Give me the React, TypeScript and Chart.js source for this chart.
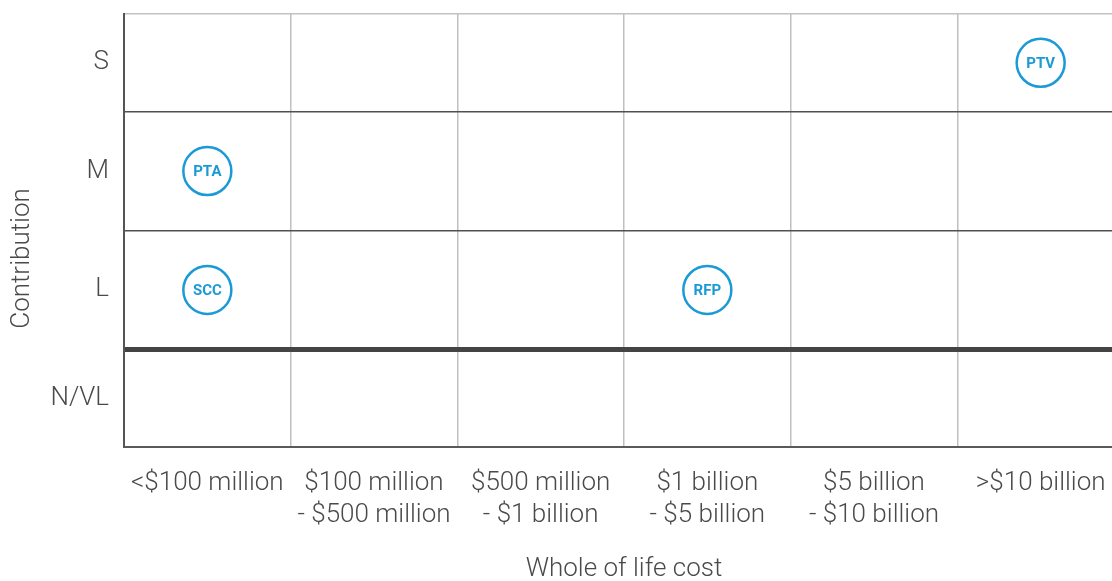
import React, { useEffect, useRef } from 'react';
import { Chart, registerables } from 'chart.js';

Chart.register(...registerables);

// ---- data ----
const costBands = [
  '<$100 million',
  '$100 million - $500 million',
  '$500 million - $1 billion',
  '$1 billion - $5 billion',
  '$5 billion - $10 billion',
  '>$10 billion',
];
const contributionLevels = ['N/VL', 'L', 'M', 'S'];
const projects = ['PTA', 'SCC', 'RFP', 'PTV'];
const projectCost = ['<$100 million', '<$100 million', '$1 billion - $5 billion', '>$10 billion'];
const projectContribution = ['M', 'L', 'L', 'S'];

const xTitle = 'Whole of life cost';
const yTitle = 'Contribution';

// ---- layout helpers (outer rows are drawn shorter than inner rows) ----
const OUTER_ROW = 0.82;
const yMin = -0.5 + (1 - OUTER_ROW);
const yMax = contributionLevels.length - 0.5 - (1 - OUTER_ROW);
const rowCenter = (i: number) => {
  const lo = Math.max(i - 0.5, yMin);
  const hi = Math.min(i + 0.5, yMax);
  return (lo + hi) / 2;
};
const centers = contributionLevels.map((_, i) => rowCenter(i));
const boundaries = [yMin, ...contributionLevels.slice(1).map((_, i) => i + 0.5), yMax];
const thickBoundary = 0.5;

const FONT = "'Helvetica Neue', Roboto, 'Liberation Sans', Arial, sans-serif";
const BLUE = '#1b9ad6';
const TEXT = '#4a4a4a';

const isCenter = (v: number) => centers.some((c) => Math.abs(c - v) < 1e-6);

const labelPlugin = {
  id: 'projectLabels',
  afterDatasetsDraw(chart: any) {
    const { ctx } = chart;
    const meta = chart.getDatasetMeta(0);
    ctx.save();
    ctx.font = `bold 15px ${FONT}`;
    ctx.fillStyle = BLUE;
    ctx.textAlign = 'center';
    ctx.textBaseline = 'middle';
    meta.data.forEach((pt: any, i: number) => {
      ctx.fillText(projects[i], pt.x, pt.y + 1);
    });
    ctx.restore();
  },
  afterDraw(chart: any) {
    const { ctx, chartArea } = chart;
    ctx.save();
    ctx.font = `300 26px ${FONT}`;
    ctx.fillStyle = TEXT;
    ctx.textAlign = 'center';
    ctx.textBaseline = 'middle';
    ctx.translate(22, (chartArea.top + chartArea.bottom) / 2 + 28);
    ctx.rotate(-Math.PI / 2);
    ctx.fillText(yTitle, 0, 0);
    ctx.restore();
  },
};

export default function App() {
  const ref = useRef<HTMLCanvasElement | null>(null);

  useEffect(() => {
    if (!ref.current) return;
    const data = projects.map((_, i) => ({
      x: projectCost[i],
      y: centers[contributionLevels.indexOf(projectContribution[i])],
    }));
    const chart = new Chart(ref.current, {
      type: 'line',
      data: {
        labels: costBands,
        datasets: [
          {
            data,
            showLine: false,
            pointRadius: 24,
            pointHoverRadius: 24,
            pointBorderWidth: 2.5,
            pointBorderColor: BLUE,
            pointBackgroundColor: '#ffffff',
            clip: false,
          } as any,
        ],
      },
      options: {
        animation: false,
        responsive: false,
        devicePixelRatio: 1,
        layout: { autoPadding: false, padding: { top: 14, right: 16, bottom: 0, left: 0 } },
        plugins: {
          legend: { display: false },
          tooltip: { enabled: false },
        },
        events: [],
        scales: {
          x: {
            type: 'category',
            offset: true,
            grid: {
              offset: true,
              color: '#c2c0bf',
              lineWidth: 1.5,
              drawTicks: false,
            },
            border: { display: true, color: '#5a5a5a', width: 2 },
            ticks: {
              autoSkip: false,
              maxRotation: 0,
              padding: 20,
              color: TEXT,
              font: { family: FONT, size: 26, weight: '300', lineHeight: 1.25 },
              callback: function (this: any, value: any) {
                const s = this.getLabelForValue(value) as string;
                const parts = s.split(' - ');
                return parts.length > 1 ? [parts[0], '- ' + parts[1]] : s;
              },
            },
            title: {
              display: true,
              text: xTitle,
              color: TEXT,
              font: { family: FONT, size: 26, weight: '300', lineHeight: 0.85 },
              padding: { top: 0, bottom: 0 },
            },
            afterFit: (scale: any) => {
              scale.height = 134;
              scale.paddingLeft = 0;
              scale.paddingRight = 0;
            },
          },
          y: {
            type: 'linear',
            min: yMin,
            max: yMax,
            afterBuildTicks: (scale: any) => {
              const vals = [...boundaries, ...centers].sort((a, b) => a - b);
              scale.ticks = vals.map((v) => ({ value: v }));
            },
            grid: {
              drawTicks: false,
              color: (ctx: any) => {
                const v = ctx.tick?.value;
                if (v === undefined || isCenter(v)) return 'rgba(0,0,0,0)';
                if (Math.abs(v - thickBoundary) < 1e-6) return '#444444';
                if (Math.abs(v - yMax) < 1e-6) return '#c4c2c1';
                return '#505050';
              },
              lineWidth: (ctx: any) => {
                const v = ctx.tick?.value;
                if (v === undefined || isCenter(v)) return 0;
                if (Math.abs(v - thickBoundary) < 1e-6) return 5;
                return 1.5;
              },
            },
            border: { display: true, color: '#555555', width: 2 },
            ticks: {
              autoSkip: false,
              padding: 15,
              color: TEXT,
              font: { family: FONT, size: 26, weight: '300' },
              callback: (value: any) => {
                const i = centers.findIndex((c) => Math.abs(c - Number(value)) < 1e-6);
                return i >= 0 ? contributionLevels[i] : '';
              },
            },
            afterFit: (scale: any) => {
              scale.width = 124;
              scale.paddingTop = 0;
              scale.paddingBottom = 0;
            },
          },
        },
      },
      plugins: [labelPlugin],
    });
    return () => chart.destroy();
  }, []);

  return (
    <div
      style={{
        position: 'fixed',
        left: 0,
        top: 0,
        width: 1112,
        height: 581,
        overflow: 'hidden',
        background: '#ffffff',
      }}
    >
      <canvas ref={ref} width={1140} height={581} style={{ display: 'block', width: 1140, height: 581 }} />
    </div>
  );
}
